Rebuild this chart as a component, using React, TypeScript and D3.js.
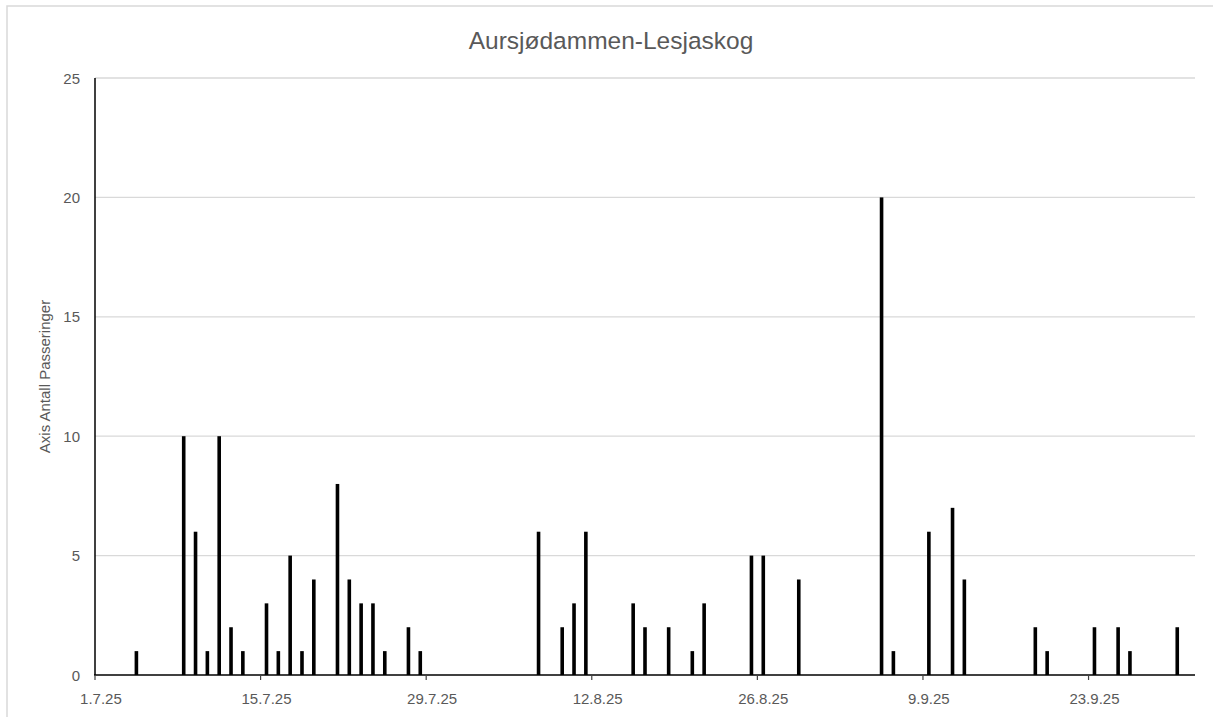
import React from "react";
import * as d3 from "d3";

const title = "Aursjødammen-Lesjaskog";
const yAxisTitle = "Axis Antall Passeringer";

const dates: string[] = [
  "2025-07-04", "2025-07-08", "2025-07-09", "2025-07-10", "2025-07-11", "2025-07-12", "2025-07-13",
  "2025-07-15", "2025-07-16", "2025-07-17", "2025-07-18", "2025-07-19", "2025-07-21", "2025-07-22",
  "2025-07-23", "2025-07-24", "2025-07-25", "2025-07-27", "2025-07-28",
  "2025-08-07", "2025-08-09", "2025-08-10", "2025-08-11", "2025-08-15", "2025-08-16", "2025-08-18",
  "2025-08-20", "2025-08-21", "2025-08-25", "2025-08-26", "2025-08-29",
  "2025-09-05", "2025-09-06", "2025-09-09", "2025-09-11", "2025-09-12", "2025-09-18", "2025-09-19",
  "2025-09-23", "2025-09-25", "2025-09-26", "2025-09-30",
];
const counts: number[] = [
  1, 10, 6, 1, 10, 2, 1,
  3, 1, 5, 1, 4, 8, 4,
  3, 3, 1, 2, 1,
  6, 2, 3, 6, 3, 2, 2,
  1, 3, 5, 5, 4,
  20, 1, 6, 7, 4, 2, 1,
  2, 2, 1, 2,
];
const xTickDates: string[] = ["2025-07-01", "2025-07-15", "2025-07-29", "2025-08-12", "2025-08-26", "2025-09-09", "2025-09-23"];
const xTickLabels: string[] = ["1.7.25", "15.7.25", "29.7.25", "12.8.25", "26.8.25", "9.9.25", "23.9.25"];
const yTicks: number[] = [0, 5, 10, 15, 20, 25];

const W = 1213;
const H = 717;
const m = { left: 95, right: 1195, top: 78, bottom: 675 };

const parse = d3.utcParse("%Y-%m-%d");
const DAY = 86400000;

export default function App() {
  const start = parse("2025-07-01")!;
  const end = parse("2025-10-02")!;
  const x = d3.scaleUtc().domain([start, end]).range([m.left, m.right]);
  const y = d3.scaleLinear().domain([0, 25]).range([m.bottom, m.top]);
  const slotCenter = (d: Date) => x(new Date(d.getTime() + DAY / 2));
  const barW = 3.6;
  const gray = "#595959";
  const tickFont = "'Liberation Sans', Arial, sans-serif";
  const narrowFont = "'Liberation Sans Narrow', 'Liberation Sans', Arial, sans-serif";

  return (
    <svg width={W} height={H} style={{ position: "absolute", left: 0, top: 0, background: "#fff" }}>
      <rect x={7} y={6} width={W + 20} height={H + 20} fill="#fff" stroke="#d9d9d9" strokeWidth={1.5} />
      <text x={611} y={49} textAnchor="middle" fontFamily={narrowFont} fontSize={24.5} fill={gray}>
        {title}
      </text>
      {yTicks.filter((t) => t > 0).map((t) => (
        <line key={"g" + t} x1={m.left} x2={m.right} y1={y(t)} y2={y(t)} stroke="#d9d9d9" strokeWidth={1.3} />
      ))}
      {yTicks.map((t) => (
        <text key={"yl" + t} x={80} y={y(t) + 5.5} textAnchor="end" fontFamily={tickFont} fontSize={15} fill={gray}>
          {t}
        </text>
      ))}
      <text
        transform={`translate(50,${(m.top + m.bottom) / 2}) rotate(-90)`}
        textAnchor="middle"
        fontFamily={narrowFont}
        fontSize={15}
        fill={gray}
      >
        {yAxisTitle}
      </text>
      {dates.map((ds, i) => {
        const d = parse(ds)!;
        const cx = slotCenter(d);
        return (
          <rect key={ds} x={cx - barW / 2} y={y(counts[i])} width={barW} height={y(0) - y(counts[i])} fill="#000" />
        );
      })}
      <line x1={m.left} x2={m.left} y1={m.top} y2={m.bottom} stroke="#000" strokeWidth={1.5} />
      <line x1={m.left - 1} x2={m.right} y1={m.bottom} y2={m.bottom} stroke="#000" strokeWidth={1.6} />
      {xTickDates.map((ds, i) => {
        const d = parse(ds)!;
        const tx = x(d);
        return (
          <g key={ds}>
            <line x1={tx} x2={tx} y1={m.bottom} y2={m.bottom + 5} stroke="#404040" strokeWidth={1.2} />
            <text x={slotCenter(d)} y={703.5} textAnchor="middle" fontFamily={tickFont} fontSize={15} fill={gray}>
              {xTickLabels[i]}
            </text>
          </g>
        );
      })}
    </svg>
  );
}
